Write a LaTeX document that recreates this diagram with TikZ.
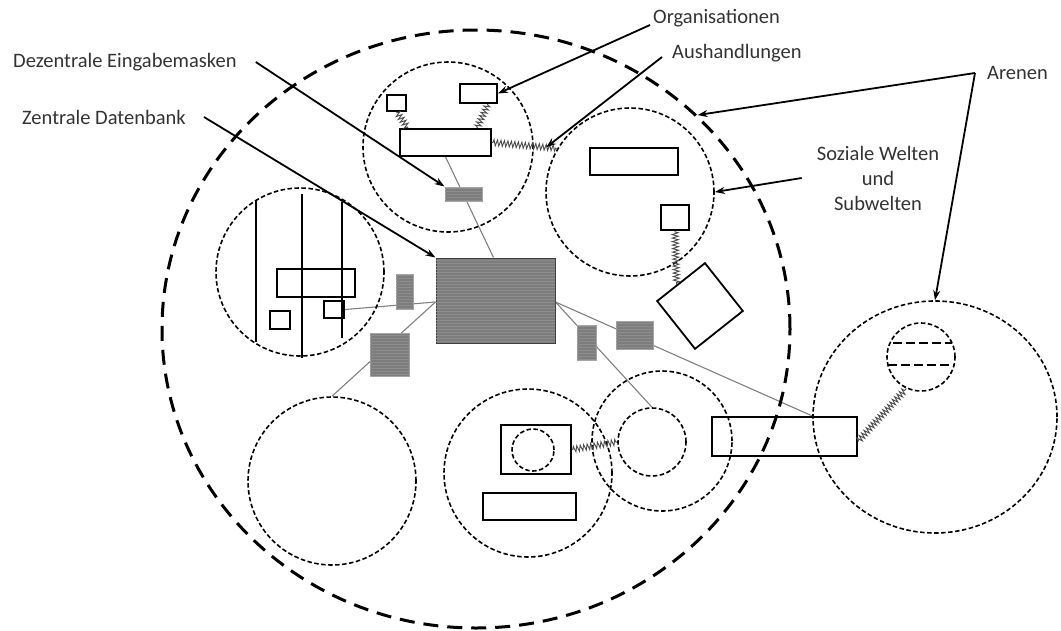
\documentclass[tikz,border=0pt]{standalone}
\usepackage{fontspec}
\setmainfont{Carlito}
\usetikzlibrary{shapes.geometric,decorations.pathmorphing,arrows.meta,patterns,calc,backgrounds}
\begin{document}
\begin{tikzpicture}[x=1pt,y=-1pt,
  lbl/.style={font=\fontsize{20.5}{25}\selectfont, text=black!80, inner sep=0pt},
  world/.style={circle, draw, line width=1.6pt, dash pattern=on 4.5pt off 2.5pt, inner sep=0pt},
  arenashape/.style={ellipse, draw, line width=3pt, dash pattern=on 15pt off 9pt, inner sep=0pt},
  box/.style={draw, line width=1.8pt, inner sep=0pt},
  dbbox/.style={draw=black!75, line width=1pt, inner sep=0pt, fill={rgb,255:red,125;green,125;blue,125},
     postaction={pattern=horizontal lines, pattern color=black!45}},
  mask/.style={draw=gray!70, line width=1pt, inner sep=0pt, fill={rgb,255:red,125;green,125;blue,125},
     postaction={pattern=horizontal lines, pattern color=black!45}},
  thin/.style={draw=gray, line width=1.1pt},
  spring/.style={draw=black!70, line width=0.9pt, decorate,
     decoration={zigzag, segment length=3.5pt, amplitude=3pt, pre length=1pt, post length=1pt}},
  pointer/.style={draw=black, line width=1.8pt, -{Stealth[length=10pt,width=7pt]}},
  chord/.style={draw=black, line width=1.8pt}
]
\useasboundingbox (0,0) rectangle (1061,630);

% arenas
\node[arenashape, minimum width=628pt, minimum height=598pt] (arena) at (476,329) {};
\node[arenashape, line width=1.6pt, dash pattern=on 4.5pt off 2.5pt, minimum width=244pt, minimum height=232pt] (rarena) at (935,417) {};

% social worlds
\node[world, minimum size=170pt] (w1) at (448,147) {};
\node[world, minimum size=168pt] (w2) at (630,192) {};
\node[world, minimum size=168pt] (wl) at (300,272) {};
\node[world, minimum size=168pt] (wbl) at (332,481) {};
\node[world, minimum size=168pt] (wbm) at (528,473) {};
\node[world, minimum size=140pt] (wbr) at (662,441) {};
\node[world, minimum size=68pt] (wbrin) at (652,442) {};
\node[world, minimum size=68pt] (rain) at (921,357) {};
\node[world, minimum size=42pt] (bmin) at (533,450) {};

% chords in left world
\draw[chord] (256,201) -- (256,342);
\draw[chord] (302,194) -- (302,358);
\draw[chord] (342,202) -- (342,338);
% dashed chords in right arena subworld
\draw[chord, dash pattern=on 9pt off 4pt] (893,343) -- (952,343);
\draw[chord, dash pattern=on 9pt off 4pt] (888,365) -- (955,365);

% boxes
\node[box, minimum width=19pt, minimum height=16pt] (orgS1) at (396.5,103) {};
\node[box, minimum width=37pt, minimum height=19pt] (orgS2) at (478.5,93.5) {};
\node[box, minimum width=91pt, minimum height=27pt] (orgB) at (445.5,142.5) {};
\node[box, minimum width=78pt, minimum height=28pt] (lrect) at (316,283) {};
\node[box, minimum width=20pt, minimum height=18pt] (lsq1) at (280,320) {};
\node[box, minimum width=20pt, minimum height=17pt] (lsq2) at (334,309.5) {};
\node[box, minimum width=88pt, minimum height=27pt] (trect) at (634,161.5) {};
\node[box, minimum width=28pt, minimum height=25pt] (tsq) at (675,217.5) {};
\node[box, minimum width=61pt, minimum height=61pt, rotate=38.4] (dia) at (700,306) {};
\node[box, minimum width=70pt, minimum height=49pt] (bm1) at (536,449.5) {};
\node[box, minimum width=93pt, minimum height=27pt] (bm2) at (529.5,506.5) {};
\node[box, line width=1.5pt, minimum width=145pt, minimum height=39pt] (R) at (784.5,436.5) {};

% database and masks
\node[dbbox, minimum width=119pt, minimum height=85pt] (db) at (495.5,300.5) {};
\node[mask, minimum width=37pt, minimum height=14pt] (dezen) at (463.5,194) {};
\node[mask, minimum width=17pt, minimum height=35pt] (g1) at (404.5,291.5) {};
\node[mask, minimum width=39pt, minimum height=43pt] (g2) at (389.5,354.5) {};
\node[mask, minimum width=19pt, minimum height=35pt] (g3) at (586.5,342.5) {};
\node[mask, minimum width=37pt, minimum height=28pt] (g4) at (634.5,335) {};

% thin connectors (behind)
\begin{scope}[on background layer]
\draw[thin] (orgB.south) -- ([xshift=-2pt]db.north);
\draw[thin] (lsq2.east) -- ([yshift=-1.5pt]db.west);
\draw[thin] ([yshift=-1.5pt]db.west) -- (wbl.north);
\draw[thin] ([yshift=-1.5pt]db.east) -- (wbrin.north);
\draw[thin] ([yshift=-1.5pt]db.east) -- ([xshift=28.5pt]R.north);
\end{scope}

% springs (Aushandlungen)
\draw[spring] (orgS1.south) -- ([xshift=-37.5pt]orgB.north);
\draw[spring] ([xshift=9.5pt]orgS2.south) -- ([xshift=31.5pt]orgB.north);
\draw[spring] (orgB.east) -- (w2.149);
\draw[spring] (tsq.south) -- ($(dia.north east)!0.58!(dia.north west)$);
\draw[spring] (bm1.east) -- (wbrin.west);
\draw[spring] ([yshift=-5pt]R.east) -- (rain.-115);

% labels
\node[lbl, anchor=west] (dez) at (13,62) {Dezentrale Eingabemasken};
\node[lbl, anchor=west] (zd) at (22,117) {Zentrale Datenbank};
\node[lbl, anchor=west] (org) at (653,18) {Organisationen};
\node[lbl, anchor=west] (aush) at (672,53) {Aushandlungen};
\node[lbl, anchor=west] (aren) at (987,73) {Arenen};
\node[lbl, align=center] (soz) at (878,178) {Soziale Welten\\und\\Subwelten};

% pointers
\draw[pointer] ([xshift=19pt]dez.east) -- (dezen.north west);
\draw[pointer] ([xshift=18pt]zd.east) -- (db.north west);
\draw[pointer] ([xshift=-3pt,yshift=-7pt]org.west) -- (orgS2.east);
\draw[pointer] ([xshift=-10pt,yshift=-4pt]aush.west) -- ($(orgB.east)!0.83!(w2.149)$);
\draw[pointer] ([xshift=-15pt]soz.west) -- (w2.east);
\coordinate (av) at ([xshift=-12pt]aren.west);
\draw[pointer] (av) -- (arena.44);
\draw[pointer] (av) -- (rarena.north);
\end{tikzpicture}
\end{document}
